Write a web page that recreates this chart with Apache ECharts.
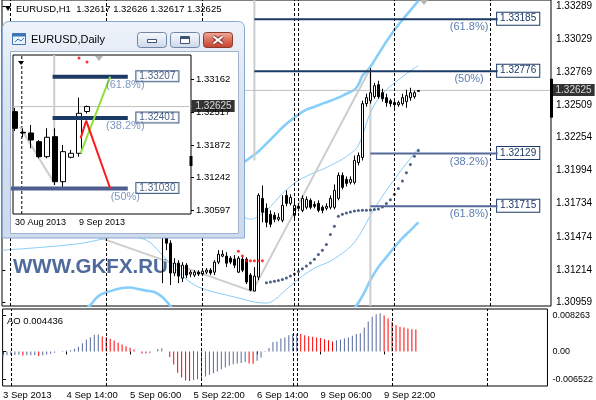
<!DOCTYPE html>
<html><head><meta charset="utf-8">
<script src="https://cdn.jsdelivr.net/npm/echarts@6/dist/echarts.min.js"></script>
<style>html,body{margin:0;padding:0;background:#fff}#c{width:596px;height:400px}</style>
</head><body><div id="c"></div>
<script>
const FONT = "'Liberation Sans', Arial, sans-serif";

// ================= H1 chart data =================
const symbolName = 'EURUSD';
const tfMain = 'H1';
const tfInset = 'Daily';
const watermark = 'WWW.GKFX.RU';
const priceTicks = [1.33289, 1.33029, 1.32769, 1.32509, 1.32254, 1.31994, 1.31734, 1.31474, 1.31214, 1.30959];
const timeTickIdx = [0, 16, 32, 48, 64, 80, 96];
const timeTickLabels = ['3 Sep 2013', '4 Sep 14:00', '5 Sep 06:00', '5 Sep 22:00', '6 Sep 14:00', '9 Sep 06:00', '9 Sep 22:00'];
const daySeparators = [2, 26, 50, 73, 74, 98, 122];
const firstCandle = 40;
// [open, close, low, high]
const candles = [
  [1.31565,1.31478,1.31110,1.31588],[1.31478,1.31424,1.31369,1.31525],[1.31424,1.31189,1.31095,1.31447],
  [1.31189,1.31267,1.31165,1.31306],[1.31267,1.31165,1.31110,1.31290],[1.31149,1.31251,1.31118,1.31275],
  [1.31251,1.31173,1.31149,1.31267],[1.31181,1.31196,1.31157,1.31212],[1.31173,1.31196,1.31157,1.31212],
  [1.31196,1.31181,1.31165,1.31212],[1.31181,1.31204,1.31165,1.31228],[1.31196,1.31212,1.31181,1.31228],
  [1.31212,1.31189,1.31173,1.31228],[1.31196,1.31275,1.31173,1.31290],[1.31275,1.31337,1.31259,1.31369],
  [1.31322,1.31337,1.31314,1.31369],[1.31322,1.31267,1.31236,1.31353],[1.31306,1.31275,1.31259,1.31322],
  [1.31298,1.31251,1.31228,1.31330],[1.31196,1.31306,1.31189,1.31322],[1.31298,1.31212,1.31196,1.31314],
  [1.31298,1.31118,1.31102,1.31314],[1.31173,1.31055,1.31047,1.31189],[1.31047,1.31165,1.31045,1.31236],
  [1.31157,1.31800,1.31134,1.31816],[1.31776,1.31667,1.31588,1.31878],[1.31698,1.31588,1.31549,1.31737],
  [1.31651,1.31573,1.31549,1.31682],[1.31643,1.31612,1.31588,1.31667],[1.31612,1.31627,1.31596,1.31659],
  [1.31604,1.31721,1.31588,1.31800],[1.31800,1.31737,1.31714,1.31839],[1.31737,1.31784,1.31721,1.31808],
  [1.31643,1.31721,1.31620,1.31761],[1.31714,1.31698,1.31674,1.31737],[1.31682,1.31776,1.31667,1.31800],
  [1.31706,1.31768,1.31690,1.31792],[1.31761,1.31706,1.31690,1.31776],[1.31729,1.31714,1.31698,1.31753],
  [1.31737,1.31682,1.31667,1.31761],[1.31706,1.31682,1.31659,1.31721],[1.31698,1.31714,1.31682,1.31737],
  [1.31706,1.31776,1.31690,1.31800],[1.31706,1.31839,1.31690,1.31886],[1.31776,1.31957,1.31761,1.31980],
  [1.31957,1.31863,1.31847,1.31980],[1.31925,1.31894,1.31870,1.31949],[1.31902,1.31925,1.31886,1.31949],
  [1.31902,1.32074,1.31886,1.32113],[1.32058,1.32113,1.32035,1.32137],[1.32098,1.32521,1.32074,1.32544],
  [1.32521,1.32568,1.32497,1.32599],[1.32544,1.32607,1.32521,1.32799],[1.32576,1.32662,1.32560,1.32685],
  [1.32670,1.32576,1.32560,1.32701],[1.32607,1.32560,1.32537,1.32638],[1.32568,1.32529,1.32497,1.32599],
  [1.32544,1.32521,1.32497,1.32560],[1.32529,1.32513,1.32489,1.32544],[1.32513,1.32529,1.32497,1.32544],
  [1.32521,1.32568,1.32505,1.32599],[1.32537,1.32584,1.32489,1.32630],[1.32568,1.32607,1.32544,1.32646],
  [1.32576,1.32607,1.32560,1.32623],[1.32617,1.32625,1.32617,1.32626]
];
const lastPrice = 1.32625;
const axisMarkRange = [1.32717, 1.32411];
const sarBlueStart = 66;
const sarBlue = [1.31113,1.31118,1.31124,1.31131,1.31139,1.31150,1.31165,1.31181,1.31202,1.31222,1.31244,1.31269,1.31298,1.31335,1.31369,1.31414,1.31492,1.31557,1.31635,1.31651,1.31661,1.31669,1.31677,1.31680,1.31682,1.31682,1.31685,1.31688,1.31693,1.31708,1.31735,1.31766,1.31808,1.31853,1.31912,1.31978,1.32043,1.32108,1.32153];
const sarRedStart = 59;
const sarRed = [1.31361,1.31324,1.31285,1.31285,1.31285,1.31285,1.31285];
const bbOuterUpper = [[58,1.31996],[60,1.32051],[62,1.32098],[64,1.32145],[66,1.32207],[68,1.32270],[70,1.32333],[72,1.32388],[74,1.32435],[76,1.32474],[78,1.32497],[80,1.32521],[82,1.32544],[84,1.32568],[86,1.32599],[88,1.32630],[89,1.32670],[90,1.32740],[91,1.32772],[92,1.32811],[93,1.32860],[94,1.32910],[95,1.32960],[96,1.33010],[98,1.33100],[100,1.33180],[102,1.33255],[104,1.33330]];
const bbOuterLower = [[10,1.30663],[16,1.30781],[20,1.30883],[22,1.30938],[24,1.31008],[27,1.31047],[30,1.31071],[32,1.31075],[34,1.31063],[36,1.31051],[38,1.31040],[40,1.31000],[42,1.30930],[44,1.30859],[48,1.30742],[55,1.30648],[62,1.30616],[70,1.30624],[78,1.30703],[84,1.30805],[88,1.30914],[90,1.31008],[92,1.31134],[94,1.31236],[96,1.31314],[98,1.31392],[100,1.31463],[102,1.31525],[104,1.31588]];
const bbInnerUpper = [[40,1.31957],[50,1.31800],[58,1.31667],[60,1.31635],[62,1.31612],[64,1.31635],[66,1.31682],[68,1.31745],[70,1.31816],[72,1.31870],[74,1.31917],[76,1.31949],[78,1.31980],[80,1.32004],[82,1.32035],[84,1.32066],[86,1.32105],[88,1.32152],[89,1.32192],[90,1.32270],[91,1.32364],[92,1.32450],[94,1.32560],[96,1.32630],[98,1.32685],[100,1.32732],[102,1.32779],[104,1.32819]];
const bbInnerLower = [[0,1.31369],[10,1.31392],[20,1.31424],[26,1.31463],[30,1.31478],[36,1.31447],[40,1.31330],[44,1.31196],[48,1.31095],[52,1.31047],[56,1.31016],[60,1.30985],[63,1.30961],[66,1.30953],[68,1.30977],[70,1.31032],[72,1.31087],[74,1.31142],[78,1.31228],[82,1.31283],[86,1.31369],[88,1.31431],[90,1.31525],[92,1.31643],[94,1.31745],[96,1.31839],[98,1.31925],[100,1.32011],[102,1.32090],[104,1.32168]];
const grayLines = [
  [[0,1.31737],[62.5,1.31045]],
  [[62.5,1.31045],[92,1.32799]],
  [[63,1.33336],[63,1.32074]],
  [[92,1.32799],[92,1.30930]]
];
const fibPrices = [1.33185, 1.32776, 1.32129, 1.31715];
const fibPcts = ['(61.8%)', '(50%)', '(38.2%)', '(61.8%)'];
const fibStart = [63, 63, 92, 92];
const fibEnd = 123.8;
// Awesome Oscillator, bar 0..104
const aoValues = [-0.0014,-0.0009,-0.00085,-0.0008,-0.00075,-0.00095,-0.0009,-0.00085,-0.0008,-0.00105,
  -0.00085,-0.0007,-0.00055,-0.0003,0,0.0001,0.0002,0.0003,0.0006,0.0011,
  0.0019,0.0027,0.0033,0.00385,0.0039,0.00345,0.0033,0.0029,0.0025,0.002,
  0.0016,0.0012,0.00085,0.00045,0,-0.00045,-0.0005,-0.0004,0,0.00055,
  0.00075,0,-0.0013,-0.003,-0.0049,-0.006,-0.0067,-0.0068,-0.0066,-0.0064,
  -0.0061,-0.0058,-0.0054,-0.005,-0.0046,-0.0041,-0.0037,-0.0033,-0.00295,-0.0028,
  -0.00265,-0.00245,-0.0028,-0.00285,-0.00215,-0.0014,0.0001,0.00077,0.0022,0.0023,
  0.003,0.0032,0.00375,0.004,0.0041,0.004,0.00375,0.0035,0.0034,0.0032,
  0.0031,0.0028,0.0026,0.0023,0.0026,0.00275,0.003,0.0032,0.0036,0.004,
  0.0042,0.0055,0.0069,0.008,0.0086,0.0088,0.0083,0.0076,0.0068,0.0061,
  0.0057,0.0055,0.0053,0.0051,0.00505];
const aoTicks = [0.008263, 0, -0.006522];
const aoTickLabels = ['0.008263', '0.00', '-0.006522'];
const aoCurrent = '0.004436';

// ================= Daily inset data =================
const dailyLabelIdx = [1, 9];
const dailyLabels = ['30 Aug 2013', '9 Sep 2013'];
const dailyTicks = [1.33162, 1.32517, 1.31872, 1.31242, 1.30597];
const dailyCandles = [
  [1.32526,1.32202,1.32150,1.32600],[1.32125,1.32111,1.32030,1.32200],[1.32111,1.31974,1.31813,1.32267],
  [1.31941,1.31649,1.31618,1.31974],[1.31649,1.32027,1.31618,1.32202],[1.32039,1.31162,1.31098,1.32202],
  [1.31162,1.31747,1.31045,1.31877],[1.31637,1.31715,1.31618,1.31780],[1.31715,1.32494,1.31649,1.32799],
  [1.32529,1.32625,1.32489,1.32646]
];
const dailySar = [[9,1.33571],[10,1.33494]];
const dailySeparators = [1.85];
const dailyAxisMark = [1.31663, 1.31468];
const dailyFibPrices = [1.33207, 1.32401, 1.31030];
const dailyFibPcts = ['(61.8%)', '(38.2%)', '(50%)'];
const dailyFibStart = [5.7, 5.7, 0];
const dailyFibEnd = 15.1;
const dailyGreen = [[9.2,1.31715],[12.9,1.33207]];
const dailyRed = [[9.2,1.32006],[9.9,1.32350],[12.9,1.31030]];
const dailyGray = [[[1.6,1.32234],[5.8,1.31162]], [[5.9,1.33629],[5.9,1.31098]]];

// ================= build =================
const xMin = -0.1, xMax = 137.15;
const dxMin = 0.75, dxMax = 23;
const NAVY = '#1b3a66', SLATE = '#54689a', SKY = '#87cefa', GRAY = '#cdcdcd';
const chart = echarts.init(document.getElementById('c'));

function priceTag(x, p, z, zl) {
  return {type:'scatter', xAxisIndex: zl ? 2 : 0, yAxisIndex: zl ? 2 : 0, zlevel: zl || 0, z: z, data:[[x, p]], symbolSize:1,
    itemStyle:{color:'transparent'}, silent:true, clip:false,
    label:{show:true, formatter:p.toFixed(5), position:[1,0], align:'left', verticalAlign:'middle',
      backgroundColor:'#000', color:'#fff', padding:[1,3,1,4], fontSize:10, fontFamily:FONT, lineHeight:10}};
}

const series = [];
series.push({type:'line', xAxisIndex:0, yAxisIndex:0, data:[], silent:true,
  markLine:{silent:true, symbol:'none', animation:false,
    data: daySeparators.map(v => ({xAxis:v, lineStyle:{color:'#000', type:[3,2], width:1}, label:{show:false}}))}});
[bbOuterUpper, bbOuterLower].forEach(d => series.push({type:'line', xAxisIndex:0, yAxisIndex:0, data:d, smooth:0.35, showSymbol:false, silent:true, z:2, lineStyle:{color:SKY, width:2.6}}));
[bbInnerUpper, bbInnerLower].forEach(d => series.push({type:'line', xAxisIndex:0, yAxisIndex:0, data:d, smooth:0.35, showSymbol:false, silent:true, z:2, lineStyle:{color:SKY, width:1}}));
grayLines.forEach(d => series.push({type:'line', xAxisIndex:0, yAxisIndex:0, data:d, showSymbol:false, silent:true, z:2, lineStyle:{color:GRAY, width:2}}));
series.push({type:'line', xAxisIndex:0, yAxisIndex:0, data:[[xMin, lastPrice],[xMax, lastPrice]], showSymbol:false, silent:true, z:2, lineStyle:{color:'#c0c0c0', width:1}});
series.push({type:'candlestick', xAxisIndex:0, yAxisIndex:0, z:3, barWidth:3,
  data: candles.map((c,i) => [firstCandle+i, c[0], c[1], c[2], c[3]]),
  encode:{x:0, y:[1,2,3,4]},
  itemStyle:{color:'#fff', color0:'#000', borderColor:'#000', borderColor0:'#000', borderWidth:1},
  markLine:{silent:true, symbol:'none', animation:false, data:[
    [{coord:[xMax, axisMarkRange[0]], lineStyle:{color:'#000', width:3, type:'solid'}, label:{show:false}}, {coord:[xMax, axisMarkRange[1]]}]
  ]}});
series.push(priceTag(xMax, lastPrice, 8, 0));
series.push({type:'scatter', xAxisIndex:0, yAxisIndex:0, z:4, symbolSize:3, silent:true,
  data: sarBlue.map((v,i) => [sarBlueStart+i, v]), itemStyle:{color:'#1f3766'}});
series.push({type:'scatter', xAxisIndex:0, yAxisIndex:0, z:4, symbolSize:3, silent:true,
  data: sarRed.map((v,i) => [sarRedStart+i, v]), itemStyle:{color:'#ff0000'}});
fibPrices.forEach((p, k) => {
  series.push({type:'line', xAxisIndex:0, yAxisIndex:0, z:5, showSymbol:false, silent:true,
    data:[[fibStart[k], p], [fibEnd, p]], lineStyle:{color: k < 2 ? NAVY : SLATE, width:2},
    markPoint:{silent:true, symbol:'rect', symbolSize:1, itemStyle:{color:'transparent'}, animation:false, data:[
      {coord:[fibEnd, p], label:{show:true, formatter:p.toFixed(5), position:[0,0], align:'left', verticalAlign:'middle',
        backgroundColor:'#fff', borderColor:NAVY, borderWidth:1, padding:[1,3,1,3], color:NAVY, fontSize:10, lineHeight:10, fontFamily:FONT}},
      {coord:[fibEnd, p], label:{show:true, formatter:fibPcts[k], position:[-28,3], align:'center', verticalAlign:'top',
        color:'#5b7db0', fontSize:11, lineHeight:11, fontFamily:FONT}}
    ]}});
});
// AO
series.push({type:'bar', xAxisIndex:1, yAxisIndex:1, barWidth:1, silent:true,
  data: aoValues.map((v,i) => ({value:[i, v], itemStyle:{color: (i === 0 || v > aoValues[i-1]) ? '#56699c' : '#ff0000'}})),
  markLine:{silent:true, symbol:'none', animation:false,
    data: daySeparators.map(v => ({xAxis:v, lineStyle:{color:'#000', type:[3,2], width:1}, label:{show:false}}))}});

// ---- inset (zlevel 1) ----
series.push({type:'line', xAxisIndex:2, yAxisIndex:2, zlevel:1, z:12, data:[[dxMin, lastPrice],[dxMax, lastPrice]], showSymbol:false, silent:true, lineStyle:{color:'#c0c0c0', width:1}});
dailySeparators.forEach(v => series.push({type:'line', xAxisIndex:2, yAxisIndex:2, zlevel:1, z:12, data:[[v, 1.30533],[v, 1.33629]], showSymbol:false, silent:true, lineStyle:{color:'#000', width:1, type:[3,2]}}));
series.push({type:'line', xAxisIndex:2, yAxisIndex:2, zlevel:1, z:20, data:[[dxMax, dailyAxisMark[0]],[dxMax, dailyAxisMark[1]]], showSymbol:false, silent:true, clip:false, lineStyle:{color:'#000', width:3}});
series.push({type:'candlestick', xAxisIndex:2, yAxisIndex:2, zlevel:1, z:14, barWidth:5,
  data: dailyCandles.map((c,i) => [i+1, c[0], c[1], c[2], c[3]]),
  encode:{x:0, y:[1,2,3,4]},
  itemStyle:{color:'#fff', color0:'#000', borderColor:'#000', borderColor0:'#000', borderWidth:1}});
series.push(priceTag(dxMax, lastPrice, 22, 1));
dailyGray.forEach(d => series.push({type:'line', xAxisIndex:2, yAxisIndex:2, zlevel:1, z:13, data:d, showSymbol:false, silent:true, lineStyle:{color:GRAY, width:2}}));
series.push({type:'scatter', xAxisIndex:2, yAxisIndex:2, zlevel:1, z:15, symbolSize:3, silent:true, data:dailySar, itemStyle:{color:'#ff0000'}});
dailyFibPrices.forEach((p, k) => {
  series.push({type:'line', xAxisIndex:2, yAxisIndex:2, zlevel:1, z:15, showSymbol:false, silent:true,
    data:[[dailyFibStart[k], p], [dailyFibEnd, p]], lineStyle:{color: k < 2 ? NAVY : '#4f5e8e', width:4, cap:'butt'}});
  series.push({type:'scatter', xAxisIndex:2, yAxisIndex:2, zlevel:1, z:21, symbolSize:1, silent:true, clip:false,
    itemStyle:{color:'transparent'},
    data:[
      {value:[dailyFibEnd, p], label:{show:true, formatter:p.toFixed(5), position:[9,0], align:'left', verticalAlign:'middle',
        backgroundColor:'#fff', borderColor:NAVY, borderWidth:1, padding:[0,3,0,3], color:NAVY, fontSize:10, lineHeight:10, fontFamily:FONT}},
      {value:[dailyFibEnd, p], label:{show:true, formatter:dailyFibPcts[k], position:[-2,3], align:'center', verticalAlign:'top',
        color:'#5b7db0', fontSize:11, lineHeight:11, fontFamily:FONT}}
    ]});
});
series.push({type:'line', xAxisIndex:2, yAxisIndex:2, zlevel:1, z:16, data:dailyGreen, showSymbol:false, silent:true, lineStyle:{color:'#8fe03a', width:2}});
series.push({type:'line', xAxisIndex:2, yAxisIndex:2, zlevel:1, z:16, data:dailyRed, showSymbol:false, silent:true, lineStyle:{color:'#ff1a1a', width:2}});

const LG = (stops) => new echarts.graphic.LinearGradient(0,0,0,1, stops.map((c,i)=>({offset:i/(stops.length-1), color:c})));
const lastC = candles[candles.length-1];
const titleMain = symbolName + ',' + tfMain + '  ' + [lastC[0], lastC[3], lastC[2], lastC[1]].map(v=>v.toFixed(5)).join(' ');

const graphic = [
  {type:'text', x:13, y:267, z:1, style:{text:watermark, fontSize:20.5, fontWeight:'bold', fontFamily:FONT, fill:'#4f6a9c', verticalAlign:'middle'}},
  {type:'text', x:16, y:9, z:100, style:{text:titleMain, fontSize:9.5, fontFamily:FONT, fill:'#000', verticalAlign:'middle'}},
  {type:'polygon', z:100, shape:{points:[[5,6],[11,6],[8,11]]}, style:{fill:'#000'}},
  {type:'polygon', z:100, shape:{points:[[420,0],[428,0],[424,5]]}, style:{fill:'#b4b4b4'}},
  {type:'text', x:7, y:321, z:100, style:{text:'AO ' + aoCurrent, fontSize:9.5, fontFamily:FONT, fill:'#000', verticalAlign:'middle'}},
  // inset window frame
  {type:'rect', zlevel:1, z:0, shape:{x:2.5, y:21.5, width:242, height:216.5, r:[6,6,0,0]},
    style:{fill:LG(['#eef3fa','#dbe5f2','#d2ddee','#cfdbec']), stroke:'#88a8d4', lineWidth:1}},
  {type:'rect', zlevel:1, z:1, shape:{x:10.5, y:51.5, width:228, height:182}, style:{fill:'#fff', stroke:'#9fb2cc', lineWidth:1}},
  {type:'rect', zlevel:1, z:2, shape:{x:12.5, y:33.5, width:13, height:11}, style:{fill:'#eaf2fc', stroke:'#3f74b6', lineWidth:1}},
  {type:'rect', zlevel:1, z:3, shape:{x:12.5, y:33.5, width:13, height:3}, style:{fill:'#3f74b6'}},
  {type:'polyline', zlevel:1, z:3, shape:{points:[[15,42],[18,39],[21,41],[24,38]]}, style:{stroke:'#3f74b6', lineWidth:1, fill:null}},
  {type:'text', zlevel:1, z:2, x:31, y:40, style:{text:symbolName + ',' + tfInset, fontSize:11, fontFamily:FONT, fill:'#000', verticalAlign:'middle'}},
  {type:'rect', zlevel:1, z:2, shape:{x:137.5, y:32.5, width:29, height:15, r:3}, style:{fill:LG(['#f6f8fc','#e3eaf4','#cbd6e7']), stroke:'#6f86a8', lineWidth:1}},
  {type:'rect', zlevel:1, z:3, shape:{x:147.5, y:39.5, width:9, height:3}, style:{fill:'#fff', stroke:'#3c5273', lineWidth:1}},
  {type:'rect', zlevel:1, z:2, shape:{x:170.5, y:32.5, width:29, height:15, r:3}, style:{fill:LG(['#f6f8fc','#e3eaf4','#cbd6e7']), stroke:'#6f86a8', lineWidth:1}},
  {type:'rect', zlevel:1, z:3, shape:{x:180.5, y:36.5, width:9, height:7}, style:{fill:'#fff', stroke:'#3c5273', lineWidth:1}},
  {type:'rect', zlevel:1, z:4, shape:{x:181, y:37, width:8, height:2}, style:{fill:'#3c5273'}},
  {type:'rect', zlevel:1, z:2, shape:{x:203.5, y:32.5, width:29, height:15, r:3}, style:{fill:LG(['#f0b0a2','#d9705c','#c2402c']), stroke:'#8b3a2c', lineWidth:1}},
  {type:'line', zlevel:1, z:3, shape:{x1:213.5, y1:36.5, x2:222.5, y2:43.5}, style:{stroke:'#7a2b20', lineWidth:4}},
  {type:'line', zlevel:1, z:3, shape:{x1:222.5, y1:36.5, x2:213.5, y2:43.5}, style:{stroke:'#7a2b20', lineWidth:4}},
  {type:'line', zlevel:1, z:4, shape:{x1:213.5, y1:36.5, x2:222.5, y2:43.5}, style:{stroke:'#fff', lineWidth:2.2}},
  {type:'line', zlevel:1, z:4, shape:{x1:222.5, y1:36.5, x2:213.5, y2:43.5}, style:{stroke:'#fff', lineWidth:2.2}},
  {type:'polygon', zlevel:1, z:30, shape:{points:[[18,61],[24,61],[21,65]]}, style:{fill:'#000'}},
  {type:'polygon', zlevel:1, z:30, shape:{points:[[95,56],[103,56],[99,61]]}, style:{fill:'#b4b4b4'}}
];

const option = {
  animation:false,
  backgroundColor:'#fff',
  textStyle:{fontFamily:FONT},
  grid:[
    {left:2, right:45, top:-1, height:307, show:true, borderColor:'#000', borderWidth:1},
    {left:2, right:45, top:309, height:78, show:true, borderColor:'#000', borderWidth:1},
    {left:13, top:55, width:178, height:159, show:true, borderColor:'#000', borderWidth:1, zlevel:1, z:10}
  ],
  xAxis:[
    {type:'value', gridIndex:0, min:xMin, max:xMax, show:false},
    {type:'value', gridIndex:1, min:xMin, max:xMax, splitLine:{show:false}, axisLine:{show:false},
      axisTick:{show:true, customValues:timeTickIdx, length:3, lineStyle:{color:'#000'}},
      axisLabel:{customValues:timeTickIdx, formatter:v => timeTickLabels[timeTickIdx.indexOf(v)] || '', align:'left', color:'#000', fontSize:9.5, fontFamily:FONT, margin:4}},
    {type:'value', gridIndex:2, min:dxMin, max:dxMax, zlevel:1, z:11, splitLine:{show:false}, axisLine:{show:false},
      axisTick:{show:false},
      axisLabel:{customValues:dailyLabelIdx, formatter:v => dailyLabels[dailyLabelIdx.indexOf(v)] || '', align:'left', color:'#000', fontSize:9, fontFamily:FONT, margin:4}}
  ],
  yAxis:[
    {type:'value', gridIndex:0, position:'right', min:1.30930, max:1.33336, splitLine:{show:false}, axisLine:{show:false},
      axisTick:{show:true, customValues:priceTicks, length:3, lineStyle:{color:'#000'}},
      axisLabel:{customValues:priceTicks, formatter:v => v.toFixed(5), color:'#000', fontSize:10, fontFamily:FONT, margin:5}},
    {type:'value', gridIndex:1, position:'right', min:-0.007966, max:0.009787, splitLine:{show:false}, axisLine:{show:false},
      axisTick:{show:true, customValues:aoTicks, length:3, lineStyle:{color:'#000'}},
      axisLabel:{customValues:aoTicks, formatter:v => { let k = aoTicks.findIndex(t => Math.abs(t - v) < 1e-7); return k >= 0 ? aoTickLabels[k] : ''; }, color:'#000', fontSize:9, fontFamily:FONT, margin:5}},
    {type:'value', gridIndex:2, position:'right', min:1.30533, max:1.33629, zlevel:1, z:11, splitLine:{show:false}, axisLine:{show:false},
      axisTick:{show:true, customValues:dailyTicks, length:3, lineStyle:{color:'#000'}},
      axisLabel:{customValues:dailyTicks, formatter:v => v.toFixed(5), color:'#000', fontSize:9.5, fontFamily:FONT, margin:5}}
  ],
  series:series,
  graphic:graphic
};
chart.setOption(option);
</script></body></html>
